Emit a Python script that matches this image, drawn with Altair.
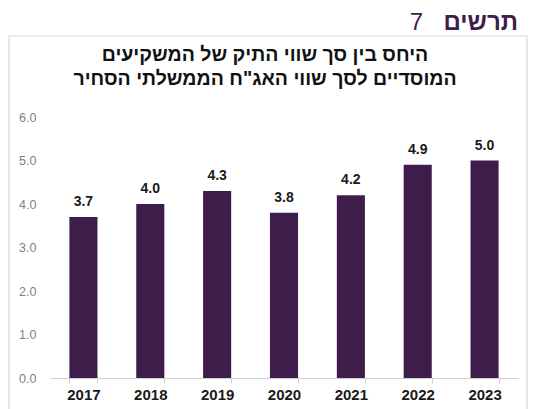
import altair as alt
import pandas as pd

years = ["2017", "2018", "2019", "2020", "2021", "2022", "2023"]
values = [3.7, 4.0, 4.3, 3.8, 4.2, 4.9, 5.0]
y_ticks = [0, 1, 2, 3, 4, 5, 6]
fig_word = "תרשים"
fig_num = "7"
title_lines = ["היחס בין סך שווי התיק של המשקיעים", "המוסדיים לסך שווי האג\"ח הממשלתי הסחיר"]

PURPLE = "#3f1d4b"
FONT = "Liberation Sans"

df = pd.DataFrame({"year": years, "value": values})
one = pd.DataFrame({"k": [0]})

x = alt.X("year:N", sort=years, title=None,
          scale=alt.Scale(paddingInner=0.58, paddingOuter=0.29),
          axis=alt.Axis(labelAngle=0, labelFont=FONT, labelFontSize=15, labelFontWeight="bold",
                        labelColor="#1a1a1a", labelPadding=4, domainColor="#d0d0d0",
                        tickColor="#d0d0d0", tickSize=5, tickBand="extent", grid=False))
y = alt.Y("value:Q", title=None,
          scale=alt.Scale(domain=[0, 6], nice=False),
          axis=alt.Axis(values=y_ticks, format=".1f", labelFont=FONT, labelFontSize=12.5,
                        labelColor="#7f7f7f", labelPadding=14, domain=False, ticks=False, grid=False))

bars = alt.Chart(df).mark_bar(color=PURPLE).encode(x=x, y=y)
labels = alt.Chart(df).mark_text(font=FONT, fontSize=14, fontWeight="bold", color="#1a1a1a",
                                 baseline="bottom", dy=-8).encode(
    x=alt.X("year:N", sort=years), y="value:Q", text=alt.Text("value:Q", format=".1f"))

frame = alt.Chart(one).mark_rect(fillOpacity=0, stroke="#d9d9d9", strokeWidth=1.2).encode(
    x=alt.value(-41), x2=alt.value(477), y=alt.value(-81), y2=alt.value(330))

word = alt.Chart(pd.DataFrame({"t": [fig_word]})).mark_text(
    font=FONT, fontSize=24, fontWeight="bold", color=PURPLE, align="right", baseline="alphabetic").encode(
    x=alt.value(468), y=alt.value(-87), text="t:N")
num = alt.Chart(pd.DataFrame({"t": [fig_num]})).mark_text(
    font=FONT, fontSize=24, color=PURPLE, align="right", baseline="alphabetic").encode(
    x=alt.value(373), y=alt.value(-87), text="t:N")
t1 = alt.Chart(pd.DataFrame({"t": [title_lines[0]]})).mark_text(
    font=FONT, fontSize=19.5, fontWeight="bold", color="#111111", align="center", baseline="middle").encode(
    x=alt.value(215), y=alt.value(-62), text="t:N")
t2 = alt.Chart(pd.DataFrame({"t": [title_lines[1]]})).mark_text(
    font=FONT, fontSize=19.5, fontWeight="bold", color="#111111", align="center", baseline="middle").encode(
    x=alt.value(215), y=alt.value(-38), text="t:N")

chart = alt.layer(frame, bars, labels, word, num, t1, t2).properties(
    width=468, height=261, autosize="none",
    padding={"left": 42, "top": 109, "right": 10, "bottom": 31},
    background="white",
).configure_view(strokeWidth=0)

chart.save("out.html", embed_options={"renderer": "svg", "actions": False})
